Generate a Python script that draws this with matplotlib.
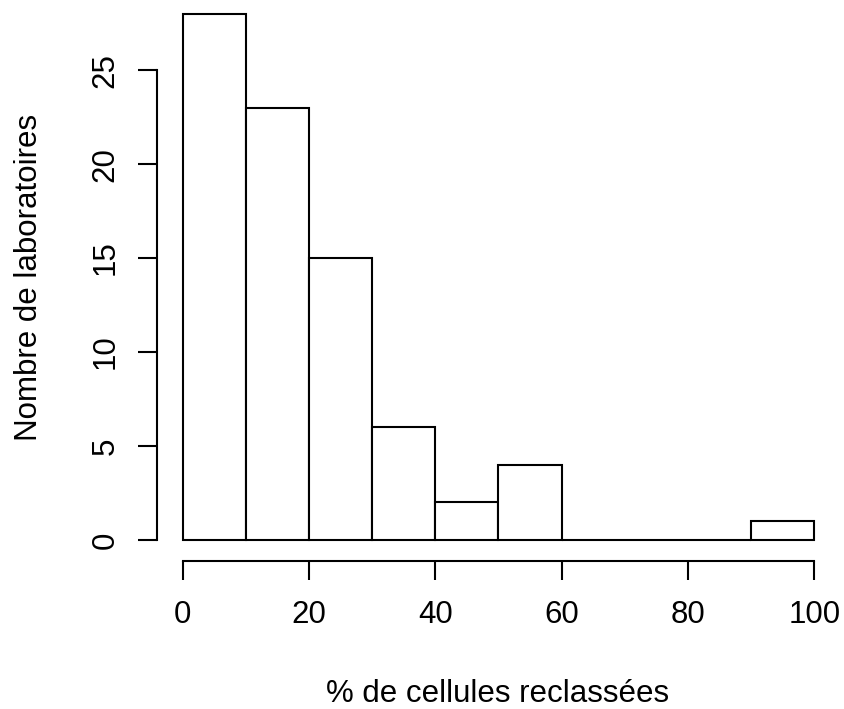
import matplotlib.pyplot as plt
import numpy as np

# histogram counts per 10% bin
bin_edges = [0, 10, 20, 30, 40, 50, 60, 70, 80, 90, 100]
counts = [28, 23, 15, 6, 2, 4, 0, 0, 0, 1]
xticks = [0, 20, 40, 60, 80, 100]
yticks = [0, 5, 10, 15, 20, 25]

plt.rcParams['font.family'] = ['Liberation Sans', 'DejaVu Sans']
fs = 22.5

fig = plt.figure(figsize=(8.45, 7.09), dpi=100)
ax = fig.add_axes([0.1863, 0.2087, 0.8072, 0.8016])

edges = np.array(bin_edges)
ax.bar(edges[:-1], counts, width=np.diff(edges), align='edge',
       facecolor='white', edgecolor='black', linewidth=1.5)

ax.set_xlim(-4, 104)
ax.set_ylim(-1.12, 29.12)

for s in ['top', 'right']:
    ax.spines[s].set_visible(False)
ax.spines['left'].set_bounds(yticks[0], yticks[-1])
ax.spines['bottom'].set_bounds(xticks[0], xticks[-1])
ax.spines['left'].set_linewidth(1.5)
ax.spines['bottom'].set_linewidth(1.5)

ax.set_xticks(xticks)
ax.set_yticks(yticks)
ax.tick_params(axis='both', length=13.7, width=1.5, labelsize=fs)
ax.tick_params(axis='x', pad=14.4)
ax.tick_params(axis='y', pad=13)
for lab in ax.get_yticklabels():
    lab.set_rotation(90)
    lab.set_va('center')

# axis titles, centred on the plot region
fig.text(498 / 845, 1 - 702 / 709, '% de cellules reclassées',
         ha='center', va='baseline', fontsize=fs)
fig.text(37 / 845, 1 - 277 / 709, 'Nombre de laboratoires',
         ha='center', va='baseline', rotation=90, rotation_mode='anchor',
         fontsize=fs)

fig.savefig('out.png', dpi=100)
